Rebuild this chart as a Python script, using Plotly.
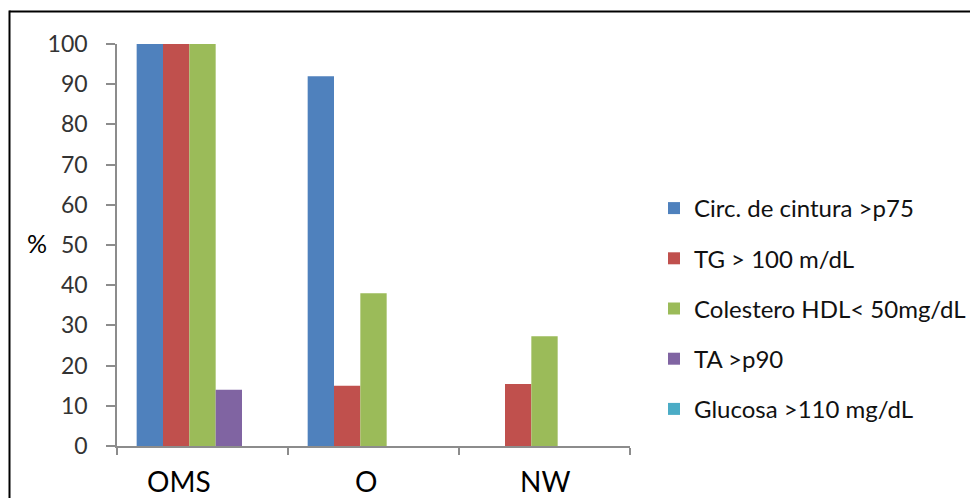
import plotly.graph_objects as go

# Prevalence of metabolic-syndrome components per group (%)
categories = ["OMS", "O", "NW"]
series_names = [
    "Circ. de cintura >p75",
    "TG > 100 m/dL",
    "Colestero HDL< 50mg/dL",
    "TA >p90",
    "Glucosa >110 mg/dL",
]
circ_cintura = [100, 92, 0]
tg = [100, 15, 15.4]
hdl = [100, 38, 27.3]
ta = [14, 0, 0]
glucosa = [0, 0, 0]
y_ticks = list(range(0, 101, 10))

colors = ["#4F81BD", "#C0504D", "#9BBB59", "#8064A2", "#4BACC6"]
values = [circ_cintura, tg, hdl, ta, glucosa]

W, H = 970, 498
L, R, T, B = 117, 340, 44, 52
pw, ph = W - L - R, H - T - B


def px_x(p):
    return (p - L) / pw


def px_y(p):
    return (H - B - p) / ph


FONT = "Lato"
fig = go.Figure()
for i, (name, vals, col) in enumerate(zip(series_names, values, colors)):
    fig.add_trace(go.Bar(
        x=categories, y=vals, name=name,
        marker=dict(color=col, line=dict(width=0)),
        legendgroup=f"g{i}",
    ))

# category labels as annotations (individual horizontal offsets)
label_shift = [-24, -8, 0]
annotations = []
for cat, sh in zip(categories, label_shift):
    annotations.append(dict(
        x=cat, y=0, xref="x", yref="y", text=cat, showarrow=False,
        yanchor="top", yshift=-16, xshift=sh,
        font=dict(family=FONT, size=28, color="#000000"),
    ))
annotations.append(dict(
    x=px_x(25), y=px_y(243), xref="paper", yref="paper", text="%",
    xanchor="left", showarrow=False,
    font=dict(family=FONT, size=25, color="#000000"),
))

shapes = [
    # chart frame (top and left edges)
    dict(type="line", xref="paper", yref="paper",
         x0=px_x(9.5), x1=px_x(972), y0=px_y(11.5), y1=px_y(11.5),
         line=dict(color="#000000", width=2)),
    dict(type="line", xref="paper", yref="paper",
         x0=px_x(9.5), x1=px_x(9.5), y0=px_y(10.5), y1=px_y(500),
         line=dict(color="#000000", width=2)),
]

fig.update_layout(
    width=W, height=H,
    margin=dict(l=L, r=R, t=T, b=B, pad=0, autoexpand=False),
    paper_bgcolor="white", plot_bgcolor="white",
    barmode="group", bargap=0.23, bargroupgap=0,
    font=dict(family=FONT, size=22, color="#222222"),
    showlegend=True,
    legend=dict(
        x=px_x(654), y=px_y(186), xanchor="left", yanchor="top",
        font=dict(family=FONT, size=24, color="#111111"),
        tracegroupgap=16, bgcolor="rgba(0,0,0,0)",
    ),
    annotations=annotations,
    shapes=shapes,
    xaxis=dict(
        showgrid=False, zeroline=False, showline=True,
        linecolor="#8C8C8C", linewidth=1.5,
        ticks="outside", tickson="boundaries", ticklen=7,
        tickcolor="#8C8C8C", tickwidth=1.5,
        showticklabels=False, fixedrange=True,
    ),
    yaxis=dict(
        range=[0, 100], tickvals=y_ticks,
        showgrid=False, zeroline=False, showline=True,
        linecolor="#8C8C8C", linewidth=1.5,
        ticks="outside", ticklen=9, tickcolor="#8C8C8C", tickwidth=1.5,
        ticklabelstandoff=14,
        tickfont=dict(family=FONT, size=23, color="#333333"),
    ),
)

fig.write_html("out.html")
